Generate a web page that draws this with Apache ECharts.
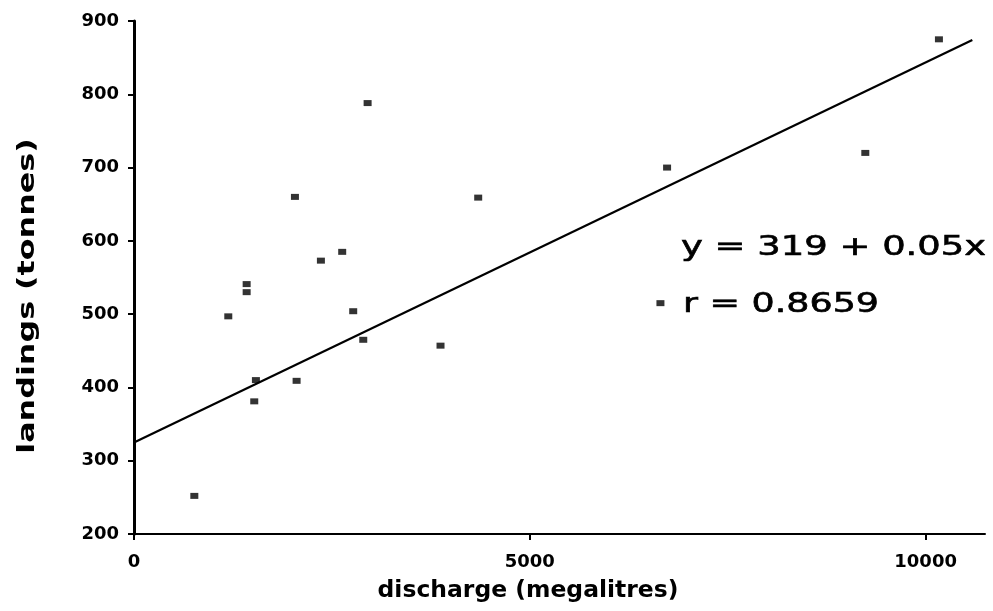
<!DOCTYPE html>
<html>
<head>
<meta charset="utf-8">
<script src="https://cdn.jsdelivr.net/npm/echarts@6/dist/echarts.min.js"></script>
<style>html,body{margin:0;padding:0;background:#fff}#c{width:993px;height:611px}</style>
</head>
<body>
<div id="c"></div>
<script>
const discharge = [762, 1191, 1423, 1423, 1519, 1540, 2033, 2054, 2361, 2630, 2769, 2896, 2951, 3872, 4348, 6650, 6734, 9238, 10168];
const landings  = [252, 497, 541, 530, 381, 410, 660, 409, 573, 585, 504, 465, 788, 457, 659, 515, 700, 720, 875];
const fitX = [0, 10590];
const fitY = [325, 874];
const xTickValues = [0, 5000, 10000];
const yTickValues = [200, 300, 400, 500, 600, 700, 800, 900];
const eqLine1 = 'y = 319 + 0.05x';
const eqLine2 = 'r = 0.8659';
const xTitle = 'discharge (megalitres)';
const yTitle = 'landings (tonnes)';

const chart = echarts.init(document.getElementById('c'), null, {renderer: 'canvas'});
const tickFont = {fontFamily: 'DejaVu Sans', fontWeight: 'bold', fontSize: 18, color: '#000', formatter: v => String(v)};
chart.setOption({
  animation: false,
  backgroundColor: '#fff',
  grid: {left: 134, right: 8, top: 21, bottom: 77, containLabel: false},
  xAxis: {
    type: 'value', min: 0, max: 10750,
    axisLine: {show: true, lineStyle: {color: '#000', width: 2}},
    axisTick: {show: true, length: 6, customValues: xTickValues, lineStyle: {color: '#000', width: 2}},
    axisLabel: Object.assign({margin: 19, customValues: xTickValues}, tickFont),
    splitLine: {show: false}
  },
  yAxis: {
    type: 'value', min: 200, max: 900, interval: 100,
    axisLine: {show: true, lineStyle: {color: '#000', width: 3}},
    axisTick: {show: true, length: 6, lineStyle: {color: '#000', width: 2}},
    axisLabel: Object.assign({margin: 15}, tickFont),
    splitLine: {show: false}
  },
  series: [
    {
      type: 'scatter', silent: true,
      symbol: 'rect', symbolSize: [8, 6],
      itemStyle: {color: '#000'},
      data: discharge.map((x, i) => [x, landings[i]]),
      z: 3
    },
    {
      type: 'line', silent: true, symbol: 'none',
      lineStyle: {color: '#000', width: 2.2},
      data: fitX.map((x, i) => [x, fitY[i]]),
      z: 2
    }
  ],
  graphic: [
    {type: 'text', x: 681, y: 248, scaleX: 1.42,
     style: {text: eqLine1, fontFamily: 'DejaVu Sans', fontSize: 26, fill: '#000', stroke: '#000', lineWidth: 0.6, textAlign: 'left', textVerticalAlign: 'middle'}},
    {type: 'text', x: 683, y: 305, scaleX: 1.4,
     style: {text: eqLine2, fontFamily: 'DejaVu Sans', fontSize: 26, fill: '#000', stroke: '#000', lineWidth: 0.6, textAlign: 'left', textVerticalAlign: 'middle'}},
    {type: 'text', x: 528, y: 591, scaleX: 1.02,
     style: {text: xTitle, fontFamily: 'DejaVu Sans', fontWeight: 'bold', fontSize: 23, fill: '#000', textAlign: 'center', textVerticalAlign: 'middle'}},
    {type: 'text', x: 28, y: 296, rotation: Math.PI / 2, scaleX: 1.38,
     style: {text: yTitle, fontFamily: 'DejaVu Sans', fontWeight: 'bold', fontSize: 23, fill: '#000', textAlign: 'center', textVerticalAlign: 'middle'}}
  ]
});
</script>
</body>
</html>
